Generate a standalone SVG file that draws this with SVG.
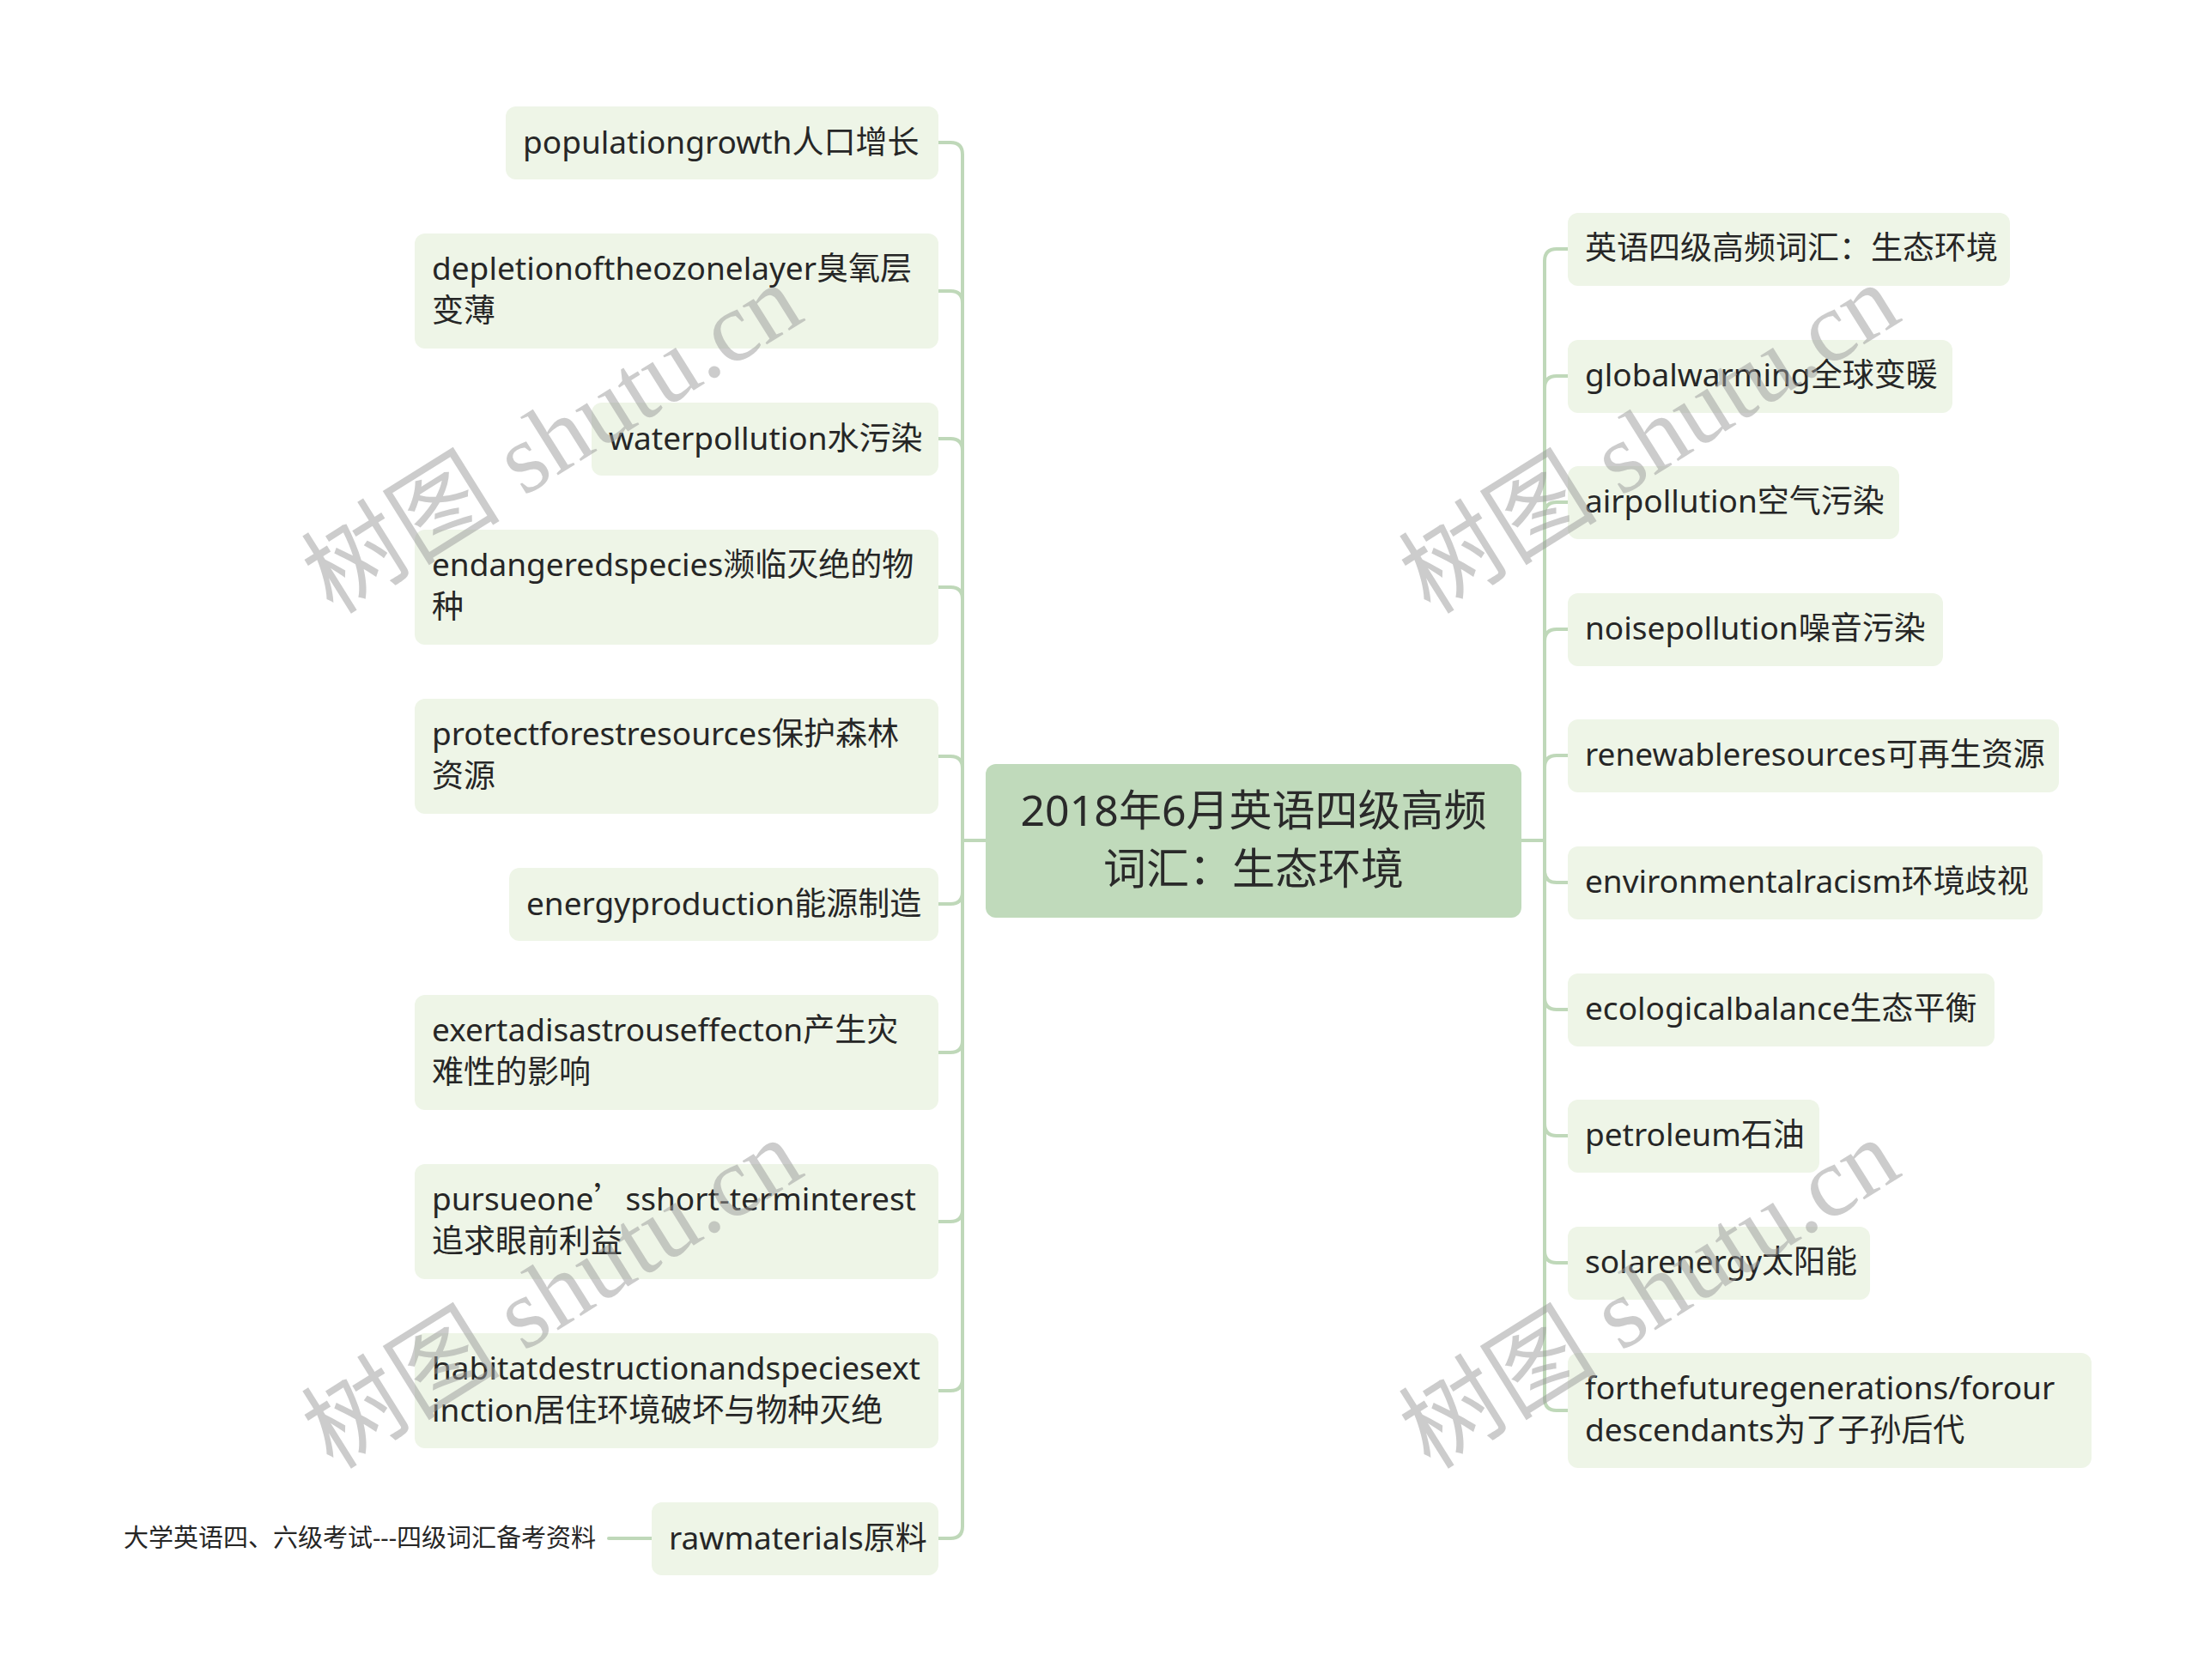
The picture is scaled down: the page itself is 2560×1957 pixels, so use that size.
<svg xmlns="http://www.w3.org/2000/svg" width="2560" height="1957" viewBox="0 0 2560 1957">
<style>
.bg{fill:#ffffff}
.node rect{fill:#eef5e7}
.root rect{fill:#c0dabb}
.t{font-family:"Noto Sans","Noto Sans CJK SC",sans-serif;font-size:37px;fill:#262626}
.cjk{font-family:"Noto Sans CJK SC",sans-serif}
.rt{font-family:"Noto Sans","Noto Sans CJK SC",sans-serif;font-size:50px;fill:#2a2a2a}
.note{font-family:"Noto Sans","Noto Sans CJK SC",sans-serif;font-size:29px;fill:#262626}
.conn path{fill:none;stroke:#bfd8b9;stroke-width:4;stroke-linecap:round}
.wm{font-family:"Liberation Serif","Noto Sans CJK SC",serif;font-size:116px;fill:#9a9a9a;opacity:0.5}
</style>
<rect class="bg" x="0" y="0" width="2560" height="1957"/>
<g id="connectors" class="conn">
<path d="M1148 979 H1121 V180 Q1121 166 1107 166 H1093"/>
<path d="M1148 979 H1121 V353 Q1121 339 1107 339 H1093"/>
<path d="M1148 979 H1121 V525 Q1121 511 1107 511 H1093"/>
<path d="M1148 979 H1121 V698 Q1121 684 1107 684 H1093"/>
<path d="M1148 979 H1121 V895 Q1121 881 1107 881 H1093"/>
<path d="M1148 979 H1121 V1039 Q1121 1053 1107 1053 H1093"/>
<path d="M1148 979 H1121 V1212 Q1121 1226 1107 1226 H1093"/>
<path d="M1148 979 H1121 V1409 Q1121 1423 1107 1423 H1093"/>
<path d="M1148 979 H1121 V1606 Q1121 1620 1107 1620 H1093"/>
<path d="M1148 979 H1121 V1778 Q1121 1792 1107 1792 H1093"/>
<path d="M759 1792 H709"/>
<path d="M1772 979 H1799 V304 Q1799 290 1813 290 H1826"/>
<path d="M1772 979 H1799 V452 Q1799 438 1813 438 H1826"/>
<path d="M1772 979 H1799 V599 Q1799 585 1813 585 H1826"/>
<path d="M1772 979 H1799 V747 Q1799 733 1813 733 H1826"/>
<path d="M1772 979 H1799 V894 Q1799 880 1813 880 H1826"/>
<path d="M1772 979 H1799 V1014 Q1799 1028 1813 1028 H1826"/>
<path d="M1772 979 H1799 V1162 Q1799 1176 1813 1176 H1826"/>
<path d="M1772 979 H1799 V1309 Q1799 1323 1813 1323 H1826"/>
<path d="M1772 979 H1799 V1457 Q1799 1471 1813 1471 H1826"/>
<path d="M1772 979 H1799 V1629 Q1799 1643 1813 1643 H1826"/>
</g>
<g id="root" class="root">
<rect x="1148" y="890" width="624" height="179" rx="12"/>
<text class="rt" x="1460" text-anchor="middle"><tspan x="1460" y="962">2018年6月英语四级高频</tspan><tspan x="1460" y="1030">词汇：生态环境</tspan></text>
</g>
<g id="n-l1" class="node"><rect x="589" y="124" width="504" height="85" rx="12"/><text class="t" x="609" y="179">populationgrowth人口增长</text></g>
<g id="n-l2" class="node"><rect x="483" y="272" width="610" height="134" rx="12"/><text class="t"><tspan x="503" y="326">depletionoftheozonelayer臭氧层</tspan><tspan x="503" y="375">变薄</tspan></text></g>
<g id="n-l3" class="node"><rect x="689" y="469" width="404" height="85" rx="12"/><text class="t" x="709" y="524">waterpollution水污染</text></g>
<g id="n-l4" class="node"><rect x="483" y="617" width="610" height="134" rx="12"/><text class="t"><tspan x="503" y="671">endangeredspecies濒临灭绝的物</tspan><tspan x="503" y="720">种</tspan></text></g>
<g id="n-l5" class="node"><rect x="483" y="814" width="610" height="134" rx="12"/><text class="t"><tspan x="503" y="868">protectforestresources保护森林</tspan><tspan x="503" y="917">资源</tspan></text></g>
<g id="n-l6" class="node"><rect x="593" y="1011" width="500" height="85" rx="12"/><text class="t" x="613" y="1066">energyproduction能源制造</text></g>
<g id="n-l7" class="node"><rect x="483" y="1159" width="610" height="134" rx="12"/><text class="t"><tspan x="503" y="1213">exertadisastrouseffecton产生灾</tspan><tspan x="503" y="1262">难性的影响</tspan></text></g>
<g id="n-l8" class="node"><rect x="483" y="1356" width="610" height="134" rx="12"/><text class="t"><tspan x="503" y="1410">pursueone<tspan class="cjk">’</tspan>sshort-terminterest</tspan><tspan x="503" y="1459">追求眼前利益</tspan></text></g>
<g id="n-l9" class="node"><rect x="483" y="1553" width="610" height="134" rx="12"/><text class="t"><tspan x="503" y="1607">habitatdestructionandspeciesext</tspan><tspan x="503" y="1656">inction居住环境破坏与物种灭绝</tspan></text></g>
<g id="n-l10" class="node"><rect x="759" y="1750" width="334" height="85" rx="12"/><text class="t" x="779" y="1805">rawmaterials原料</text></g>
<g id="n-note"><text class="note" x="694" y="1802" text-anchor="end">大学英语四、六级考试---四级词汇备考资料</text></g>
<g id="n-r1" class="node"><rect x="1826" y="248" width="515" height="85" rx="12"/><text class="t" x="1846" y="302">英语四级高频词汇：生态环境</text></g>
<g id="n-r2" class="node"><rect x="1826" y="396" width="448" height="85" rx="12"/><text class="t" x="1846" y="450">globalwarming全球变暖</text></g>
<g id="n-r3" class="node"><rect x="1826" y="543" width="386" height="85" rx="12"/><text class="t" x="1846" y="597">airpollution空气污染</text></g>
<g id="n-r4" class="node"><rect x="1826" y="691" width="437" height="85" rx="12"/><text class="t" x="1846" y="745">noisepollution噪音污染</text></g>
<g id="n-r5" class="node"><rect x="1826" y="838" width="572" height="85" rx="12"/><text class="t" x="1846" y="892">renewableresources可再生资源</text></g>
<g id="n-r6" class="node"><rect x="1826" y="986" width="553" height="85" rx="12"/><text class="t" x="1846" y="1040">environmentalracism环境歧视</text></g>
<g id="n-r7" class="node"><rect x="1826" y="1134" width="497" height="85" rx="12"/><text class="t" x="1846" y="1188">ecologicalbalance生态平衡</text></g>
<g id="n-r8" class="node"><rect x="1826" y="1281" width="293" height="85" rx="12"/><text class="t" x="1846" y="1335">petroleum石油</text></g>
<g id="n-r9" class="node"><rect x="1826" y="1429" width="352" height="85" rx="12"/><text class="t" x="1846" y="1483">solarenergy太阳能</text></g>
<g id="n-r10" class="node"><rect x="1826" y="1576" width="610" height="134" rx="12"/><text class="t"><tspan x="1846" y="1630">forthefuturegenerations/forour</tspan><tspan x="1846" y="1679">descendants为了子孙后代</tspan></text></g>
<g id="watermarks">
<text class="wm" x="645" y="550" text-anchor="middle" transform="rotate(-32 645 514)">树图 shutu.cn</text>
<text class="wm" x="645" y="1546" text-anchor="middle" transform="rotate(-32 645 1510)">树图 shutu.cn</text>
<text class="wm" x="1923" y="550" text-anchor="middle" transform="rotate(-32 1923 514)">树图 shutu.cn</text>
<text class="wm" x="1923" y="1546" text-anchor="middle" transform="rotate(-32 1923 1510)">树图 shutu.cn</text>
</g>
</svg>
